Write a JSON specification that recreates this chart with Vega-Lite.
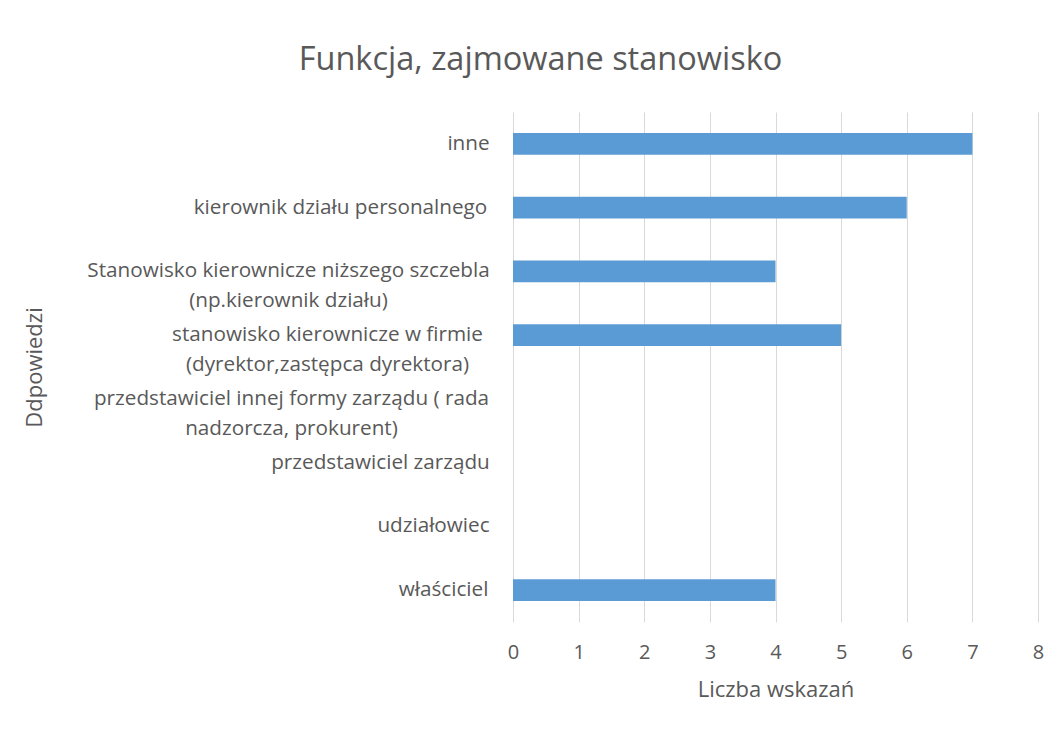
{
  "$schema": "https://vega.github.io/schema/vega-lite/v6.json",
  "autosize": {"type": "none"},
  "width": 525,
  "height": 510,
  "padding": {"left": 513, "top": 112, "right": 22, "bottom": 112},
  "background": "white",
  "title": {
    "text": "Funkcja, zajmowane stanowisko",
    "anchor": "middle",
    "dx": -235,
    "offset": 36,
    "font": "Open Sans",
    "fontSize": 32.5,
    "fontWeight": "normal",
    "color": "#595959"
  },
  "data": {
    "values": [
      {"odp": "inne", "n": 7},
      {"odp": "kierownik działu personalnego", "n": 6},
      {"odp": "Stanowisko kierownicze niższego szczebla|(np.kierownik działu)", "n": 4},
      {"odp": "stanowisko kierownicze w firmie|(dyrektor,zastępca dyrektora)", "n": 5},
      {"odp": "przedstawiciel innej formy zarządu ( rada|nadzorcza, prokurent)", "n": 0},
      {"odp": "przedstawiciel zarządu", "n": 0},
      {"odp": "udziałowiec", "n": 0},
      {"odp": "właściciel", "n": 4}
    ]
  },
  "mark": {"type": "bar", "color": "#5B9BD5"},
  "encoding": {
    "y": {
      "field": "odp",
      "type": "nominal",
      "sort": null,
      "scale": {"paddingInner": 0.655, "paddingOuter": 0.3275},
      "axis": {
        "title": "Ddpowiedzi",
        "titleFont": "Open Sans",
        "titleFontSize": 22,
        "titleFontWeight": "normal",
        "titleColor": "#595959",
        "titlePadding": 267,
        "labelExpr": "split(datum.label, '|')",
        "labelFont": "Open Sans",
        "labelFontSize": 20.7,
        "labelColor": "#595959",
        "labelLineHeight": 30,
        "labelAlign": "center",
        "labelPadding": {
          "condition": [
            {"test": "datum.value == 'inne'", "value": 45},
            {"test": "indexof(datum.value, 'kierownik działu') == 0", "value": 173},
            {"test": "indexof(datum.value, 'Stanowisko') == 0", "value": 225},
            {"test": "indexof(datum.value, 'stanowisko') == 0", "value": 186},
            {"test": "indexof(datum.value, 'przedstawiciel innej') == 0", "value": 222},
            {"test": "datum.value == 'przedstawiciel zarządu'", "value": 133},
            {"test": "datum.value == 'udziałowiec'", "value": 80}
          ],
          "value": 70
        },
        "labelLimit": 500,
        "ticks": false,
        "domain": false,
        "grid": false
      }
    },
    "x": {
      "field": "n",
      "type": "quantitative",
      "scale": {"domain": [0, 8], "nice": false},
      "axis": {
        "title": "Liczba wskazań",
        "titleFont": "Open Sans",
        "titleFontSize": 22,
        "titleFontWeight": "normal",
        "titleColor": "#595959",
        "titlePadding": 17,
        "values": [0, 1, 2, 3, 4, 5, 6, 7, 8],
        "labelFont": "Open Sans",
        "labelFontSize": 20,
        "labelColor": "#595959",
        "labelPadding": 20,
        "labelFlush": false,
        "ticks": false,
        "domain": false,
        "grid": true,
        "gridColor": "#D9D9D9",
        "gridWidth": 1
      }
    }
  },
  "config": {"view": {"stroke": null}}
}
